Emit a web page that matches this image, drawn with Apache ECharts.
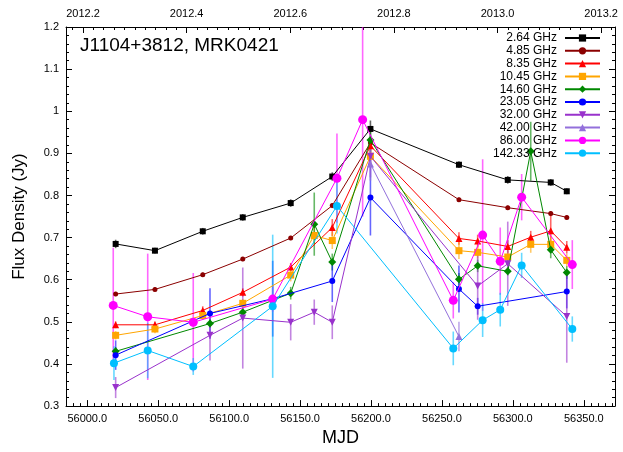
<!DOCTYPE html>
<html>
<head>
<meta charset="utf-8">
<script src="https://cdn.jsdelivr.net/npm/echarts@6/dist/echarts.min.js"></script>
<style>html,body{margin:0;padding:0;background:#fff}#c{width:623px;height:452px}</style>
</head>
<body>
<div id="c"></div>
<script>
// ---------- DATA ----------
const seriesNames = ['2.64 GHz','4.85 GHz','8.35 GHz','10.45 GHz','14.60 GHz','23.05 GHz','32.00 GHz','42.00 GHz','86.00 GHz','142.33 GHz'];

const mjd264  = [56020.0,56047.7,56081.4,56109.6,56143.4,56172.7,56199.6,56262.0,56296.4,56326.7,56338.0];
const flux264 = [0.685,0.669,0.715,0.748,0.782,0.845,0.958,0.873,0.837,0.831,0.810];
const err264  = [0.010,0.007,0.008,0.008,0.009,0.010,0.020,0.008,0.009,0.008,0.007];

const mjd485  = [56020.0,56047.7,56081.4,56109.6,56143.4,56172.7,56199.6,56262.0,56296.4,56326.7,56338.0];
const flux485 = [0.566,0.577,0.612,0.649,0.699,0.776,0.925,0.790,0.771,0.757,0.748];
const err485  = [0.005,0.005,0.005,0.005,0.005,0.006,0.010,0.005,0.005,0.006,0.005];

const mjd835  = [56020.0,56047.7,56081.4,56109.6,56143.4,56172.7,56199.6,56262.0,56275.2,56296.4,56312.6,56326.7,56338.0];
const flux835 = [0.493,0.493,0.527,0.570,0.630,0.724,0.918,0.698,0.692,0.679,0.701,0.716,0.677];
const err835  = [0.008,0.008,0.010,0.010,0.010,0.020,0.020,0.015,0.015,0.015,0.015,0.044,0.015];

const mjd1045  = [56020.0,56047.7,56081.4,56109.6,56143.4,56160.0,56172.7,56199.6,56262.0,56275.2,56296.4,56312.6,56326.7,56338.0];
const flux1045 = [0.468,0.483,0.515,0.544,0.611,0.705,0.693,0.893,0.669,0.665,0.654,0.684,0.684,0.646];
const err1045  = [0.010,0.010,0.010,0.010,0.015,0.020,0.020,0.020,0.020,0.015,0.015,0.020,0.020,0.015];

const mjd1460  = [56020.0,56086.5,56109.6,56143.4,56160.0,56172.7,56199.6,56262.0,56275.2,56296.4,56312.6,56326.7,56338.0];
const flux1460 = [0.430,0.496,0.523,0.568,0.732,0.642,0.932,0.601,0.633,0.620,0.905,0.671,0.617];
const err1460  = [0.010,0.010,0.010,0.015,0.075,0.020,0.030,0.015,0.015,0.010,0.070,0.020,0.015];

const mjd2305  = [56020.0,56086.5,56130.7,56172.7,56199.6,56262.0,56275.2,56338.0];
const flux2305 = [0.421,0.520,0.555,0.597,0.795,0.578,0.537,0.572];
const err2305  = [0.035,0.060,0.090,0.050,0.090,0.056,0.020,0.040];

const mjd3200  = [56020.0,56086.5,56109.6,56143.4,56160.0,56172.7,56199.6,56275.2,56296.4,56338.0];
const flux3200 = [0.344,0.468,0.509,0.499,0.523,0.499,0.893,0.585,0.638,0.513];
const err3200  = [0.025,0.060,0.120,0.043,0.030,0.040,0.050,0.080,0.100,0.110];

const mjd4200  = [56199.6,56262.0];
const flux4200 = [0.875,0.465];
const err4200  = [0.040,0.035];

const mjd8600  = [56018.3,56042.6,56074.7,56130.7,56176.0,56194.1,56258.0,56278.7,56291.1,56306.2,56341.9];
const flux8600 = [0.539,0.512,0.499,0.554,0.841,0.980,0.551,0.706,0.644,0.796,0.636];
const err8600  = [0.137,0.150,0.117,0.030,0.106,0.230,0.043,0.180,0.080,0.055,0.058];

const mjd14233  = [56018.8,56042.6,56074.7,56130.7,56176.0,56258.0,56278.7,56291.1,56306.2,56341.9];
const flux14233 = [0.402,0.432,0.394,0.537,0.775,0.437,0.504,0.529,0.634,0.483];
const err14233  = [0.040,0.066,0.020,0.170,0.065,0.040,0.040,0.040,0.030,0.030];

const xTickLabels = [56000,56050,56100,56150,56200,56250,56300,56350];
const yearTickLabels = [2012.2,2012.4,2012.6,2012.8,2013.0,2013.2];
const titleText = 'J1104+3812, MRK0421';

// ---------- STYLES ----------
const colors  = ['#000000','#8b0000','#ff0000','#ffa500','#008800','#0000ff','#9932cc','#9370db','#ff00ff','#00bfff'];
const symbols = ['rect','circle','triangle','rect','diamond','circle','triangle','triangle','circle','circle'];
const symSize = [6,5,7,7,8,6,7,7,9,8];
const symRot  = [0,0,0,0,0,0,180,0,0,0];

const mjdArr  = [mjd264,mjd485,mjd835,mjd1045,mjd1460,mjd2305,mjd3200,mjd4200,mjd8600,mjd14233];
const fluxArr = [flux264,flux485,flux835,flux1045,flux1460,flux2305,flux3200,flux4200,flux8600,flux14233];
const errArr  = [err264,err485,err835,err1045,err1460,err2305,err3200,err4200,err8600,err14233];

// axis ranges
const xMin = 55985, xMax = 56372;
const yearRef = 2012.2, mjdRef = 55997, daysPerYear = 365.25;
const yrMin = yearRef + (xMin - mjdRef) / daysPerYear;
const yrMax = yearRef + (xMax - mjdRef) / daysPerYear;

const xMinor = [];
for (let v = 55990; v <= xMax; v += 5) xMinor.push(v);
const yrMinor = [];
for (let k = 109; k <= 161; k++) yrMinor.push(k * 0.02 + 2010);

const FONT = 'Liberation Sans, Arial, Helvetica, sans-serif';
const series = [];
const errSeries = [];
for (let i = 0; i < seriesNames.length; i++) {
  const pts = mjdArr[i].map((m, j) => [m, fluxArr[i][j]]);
  series.push({
    name: seriesNames[i], type: 'line', xAxisIndex: 0, yAxisIndex: 0,
    data: pts, symbol: symbols[i], symbolSize: symSize[i], symbolRotate: symRot[i],
    showSymbol: true, animation: false,
    lineStyle: { color: colors[i], width: 1 },
    itemStyle: { color: colors[i] },
    emphasis: { disabled: true }, z: 3 + i * 0.01
  });
  const eb = mjdArr[i].map((m, j) => [m, fluxArr[i][j] - errArr[i][j], fluxArr[i][j] + errArr[i][j]]);
  const col = colors[i];
  errSeries.push({
    type: 'custom', xAxisIndex: 0, yAxisIndex: 0, data: eb, clip: true, animation: false,
    encode: { x: 0, y: [1, 2] }, z: 2 + i * 0.01, silent: true,
    renderItem: function (params, api) {
      const p1 = api.coord([api.value(0), api.value(1)]);
      const p2 = api.coord([api.value(0), api.value(2)]);
      return { type: 'line', shape: { x1: p1[0], y1: p1[1], x2: p2[0], y2: p2[1] },
               style: { stroke: col, lineWidth: 1.6, opacity: 0.6 } };
    }
  });
}

const axisLineStyle = { color: '#000', width: 1 };
const chart = echarts.init(document.getElementById('c'), null, { renderer: 'canvas' });
chart.setOption({
  animation: false,
  backgroundColor: '#fff',
  textStyle: { fontFamily: FONT },
  grid: { left: 66, right: 8, top: 27, bottom: 41, containLabel: false },
  graphic: [{ type: 'text', left: 80, top: 36, style: { text: titleText, font: '19px ' + FONT, fill: '#000' } }],
  legend: {
    data: seriesNames, orient: 'vertical', right: 22, top: 32, align: 'right', padding: 0,
    itemWidth: 35, itemHeight: 9, itemGap: 0.8,
    textStyle: { fontSize: 12, color: '#000', fontFamily: FONT, padding: [0, 3, 0, 0] }, selectedMode: false
  },
  xAxis: [
    { type: 'value', min: xMin, max: xMax, position: 'bottom',
      name: 'MJD', nameLocation: 'middle', nameGap: 22, nameTextStyle: { fontSize: 18, color: '#000' },
      axisLine: { show: true, onZero: false, lineStyle: axisLineStyle },
      axisTick: { show: true, inside: true, length: 6, customValues: xTickLabels, lineStyle: axisLineStyle },
      axisLabel: { customValues: xTickLabels, formatter: v => v.toFixed(1), fontSize: 11, color: '#000', margin: 7 },
      splitLine: { show: false } },
    { type: 'value', min: xMin, max: xMax, position: 'bottom',
      axisLine: { show: false, onZero: false },
      axisTick: { show: true, inside: true, length: 3, customValues: xMinor, lineStyle: axisLineStyle },
      axisLabel: { show: false }, splitLine: { show: false } },
    { type: 'value', min: yrMin, max: yrMax, position: 'top',
      axisLine: { show: true, onZero: false, lineStyle: axisLineStyle },
      axisTick: { show: true, inside: true, length: 6, customValues: yearTickLabels, lineStyle: axisLineStyle },
      axisLabel: { customValues: yearTickLabels, formatter: v => v.toFixed(1), fontSize: 11, color: '#000', margin: 8 },
      splitLine: { show: false } },
    { type: 'value', min: yrMin, max: yrMax, position: 'top',
      axisLine: { show: false, onZero: false },
      axisTick: { show: true, inside: true, length: 3, customValues: yrMinor, lineStyle: axisLineStyle },
      axisLabel: { show: false }, splitLine: { show: false } }
  ],
  yAxis: [
    { type: 'value', min: 0.3, max: 1.2, interval: 0.1, position: 'left',
      name: 'Flux Density (Jy)', nameLocation: 'middle', nameGap: 38, nameRotate: 90,
      nameTextStyle: { fontSize: 17, color: '#000' },
      axisLine: { show: true, onZero: false, lineStyle: axisLineStyle },
      axisTick: { show: true, inside: true, length: 6, lineStyle: axisLineStyle },
      minorTick: { show: true, splitNumber: 5, length: 3, lineStyle: axisLineStyle },
      axisLabel: { fontSize: 11, color: '#000', margin: 7, formatter: v => String(Math.round(v * 10) / 10) },
      splitLine: { show: false } },
    { type: 'value', min: 0.3, max: 1.2, interval: 0.1, position: 'right',
      axisLine: { show: true, onZero: false, lineStyle: axisLineStyle },
      axisTick: { show: true, inside: true, length: 6, lineStyle: axisLineStyle },
      minorTick: { show: true, splitNumber: 5, length: 3, lineStyle: axisLineStyle },
      axisLabel: { show: false }, splitLine: { show: false } }
  ],
  series: errSeries.concat(series)
});
</script>
</body>
</html>
